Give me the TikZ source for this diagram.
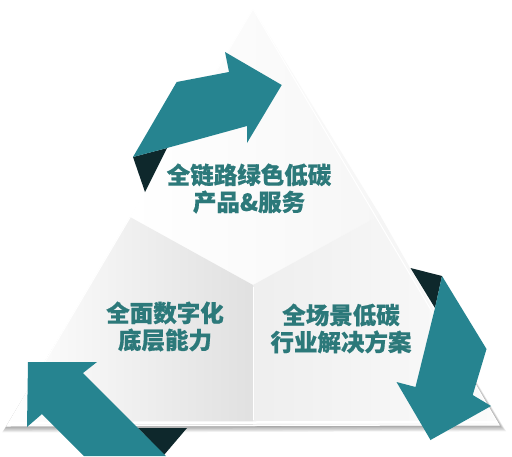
\documentclass[tikz,border=0pt]{standalone}
\usepackage{fontspec}
\newfontfamily\cjk[BoldFeatures={FakeBold=0.6}]{Noto Sans CJK SC}
\definecolor{arrowteal}{RGB}{38,132,144}
\definecolor{folddark}{RGB}{14,40,44}
\definecolor{labelteal}{RGB}{44,121,122}
\tikzset{
  labeltext/.style={font=\cjk\bfseries\fontsize{23.5}{27}\selectfont, text=labelteal, align=center, inner sep=0pt},
  arrowbody/.style={fill=arrowteal},
  arrowfold/.style={fill=folddark},
  shadowlayer/.style={fill=black, opacity=0.05}
}
\begin{document}
\begin{tikzpicture}[x=1pt,y=-1pt]
\useasboundingbox (0,0) rectangle (512,456);
\fill[white] (0,0) rectangle (512,456);
% soft shadow
\foreach \d in {1,2,...,8}{
  \fill[shadowlayer] (253+\d*0.2,9+\d*0.5) -- (7-\d*0.6,426+\d*0.8) -- (499+\d*0.9,425+\d*0.8) -- cycle;
}
% coordinates
\coordinate (A) at (253,9);
\coordinate (L) at (7,426);
\coordinate (R) at (499,425);
\coordinate (C) at (253,285);
\coordinate (PL) at (130,217);
\coordinate (PR) at (380,215);
\coordinate (B) at (253,426);
% pieces
\fill[white] (A) -- (L) -- (R) -- cycle;
\shade[shading angle=-60, left color=white, right color=gray!7] (A) -- (PR) -- (C) -- (PL) -- cycle;
\shade[shading angle=-75, left color=white, right color=gray!24] (PL) -- (C) -- (B) -- (L) -- cycle;
\shade[shading angle=-20, left color=gray!13, right color=gray!3] (PR) -- (R) -- (B) -- (C) -- cycle;
\draw[white, line width=1.4pt] (253.6,287) -- (253.6,420);
\draw[white, line width=1pt] (A) -- (L) -- (R) -- cycle;
\draw[white, line width=2.5pt] (9,423) -- (497,422);
% top arrow
\fill[arrowfold] (133,157) -- (167,148) -- (145,192) -- cycle;
\fill[arrowbody] (133,157) -- (176.7,82) -- (229,72) -- (225,52) -- (281.7,85) -- (247,143) -- (247,126) -- (167,148) -- cycle;
% right arrow
\fill[arrowfold] (410.5,268) -- (442,276) -- (435,308) -- cycle;
\fill[arrowbody] (442,276) -- (486.5,349) -- (472.7,395) -- (491,406) -- (430.5,440) -- (396.5,382) -- (415.5,387) -- (435,308) -- cycle;
% left arrow
\fill[arrowfold] (138,428) -- (187,428) -- (164,455) -- cycle;
\fill[arrowbody] (28,362) -- (97,362) -- (83,373) -- (166,456) -- (84,456) -- (42,414) -- (27,427) -- cycle;
% labels
\node[labeltext] (toplabel) at (249,188.5) {全链路绿色低碳\\产品\&服务};
\node[labeltext] (leftlabel) at (165,326.5) {全面数字化\\底层能力};
\node[labeltext] (rightlabel) at (341,328.5) {全场景低碳\\行业解决方案};
\end{tikzpicture}
\end{document}
